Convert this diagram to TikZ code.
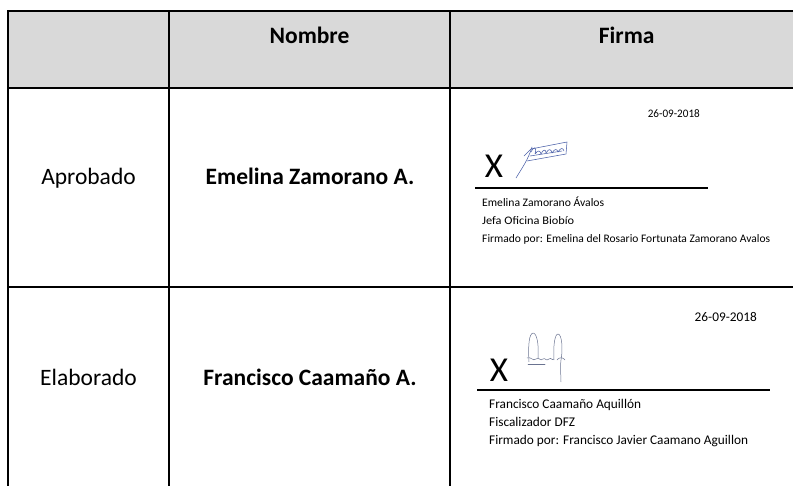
\documentclass[tikz,border=0pt]{standalone}
\usepackage{fontspec}
\setmainfont{Carlito}
\usepackage{graphicx}
\definecolor{hdr}{HTML}{D9D9D9}
\definecolor{sigblue}{HTML}{4A5FA8}
\definecolor{siggray}{HTML}{6A7390}
\tikzset{
  grid/.style={line width=2.6pt, line join=miter},
  hd/.style={font=\fontsize{23.5}{28}\selectfont\bfseries, inner sep=0pt, anchor=base},
  cellreg/.style={font=\fontsize{23.5}{28}\selectfont, inner sep=0pt, anchor=base},
  cellbold/.style={font=\fontsize{23.5}{28}\selectfont\bfseries, inner sep=0pt, anchor=base},
  small/.style={font=\fontsize{11.5}{13}\selectfont, inner sep=0pt, anchor=base west},
  smalltwo/.style={font=\fontsize{13.3}{15}\selectfont, inner sep=0pt, anchor=base west},
  bigx/.style={font=\fontsize{35}{40}\selectfont, inner sep=0pt, anchor=base},
  sigline/.style={line width=2pt},
  ink/.style={sigblue, line width=0.55pt, line cap=round, line join=round},
  inktwo/.style={siggray, line width=0.5pt, line cap=round, line join=round}
}
\begin{document}
\begin{tikzpicture}[x=1pt,y=-1pt]
\useasboundingbox (0,0) rectangle (793,486);
% header fill
\fill[hdr] (8,11) rectangle (793,88);
% grid
\draw[grid] (793,11) -- (8,11) -- (8,486);
\draw[grid] (8,88) -- (793,88);
\draw[grid] (8,287) -- (793,287);
\draw[grid] (169,11) -- (169,486);
\draw[grid] (450,11) -- (450,486);
% header
\node[hd] (nombre) at (309.5,44) {Nombre};
\node[hd] (firma) at (626.7,44) {Firma};
% row 1
\node[cellreg] (aprobado) at (88.5,185) {Aprobado};
\node[cellbold] (emelina) at (310,185) {Emelina Zamorano A.};
\node[small, anchor=base east] (fecha1) at (700,118) {\resizebox{52pt}{\height}{26-09-2018}};
\node[bigx] (x1) at (494,178) {X};
\coordinate (l1a) at (475,188);
\coordinate (l1b) at (708,188);
\draw[sigline] (l1a) -- (l1b);
\node[small] (n1) at (482,207) {\resizebox{122pt}{\height}{Emelina Zamorano Ávalos}};
\node[small] (c1) at (482,225) {\resizebox{92pt}{\height}{Jefa Oficina Biobío}};
\node[small] (f1) at (482,243) {\resizebox{288pt}{\height}{Firmado por: Emelina del Rosario Fortunata Zamorano Avalos}};
% signature 1
\draw[ink] (524,156) -- (531,149) -- (567,142) -- (566,154) -- (527,161);
\draw[ink] (532,147) .. controls (528,160) and (522,168) .. (516,178);
\draw[ink] (531,152) .. controls (534,146) and (537,146) .. (535,154)
  .. controls (538,150) and (540,150) .. (541,154)
  .. controls (543,149) and (546,149) .. (546,153)
  .. controls (549,148) and (551,149) .. (552,153)
  .. controls (555,148) and (557,149) .. (558,152)
  .. controls (561,147) and (563,148) .. (564,151);
\draw[ink] (530,156) -- (562,151);
% row 2
\node[cellreg] (elaborado) at (88.5,386) {Elaborado};
\node[cellbold] (francisco) at (310,386) {Francisco Caamaño A.};
\node[smalltwo, anchor=base east] (fecha2) at (757,322) {26-09-2018};
\node[bigx] (x2) at (499,382) {X};
\coordinate (l2a) at (477,390);
\coordinate (l2b) at (770,390);
\draw[sigline] (l2a) -- (l2b);
\node[smalltwo] (n2) at (489,409) {Francisco Caamaño Aquillón};
\node[smalltwo] (c2) at (489,426) {Fiscalizador DFZ};
\node[smalltwo] (f2) at (489,444) {Firmado por: Francisco Javier Caamano Aguillon};
% signature 2
\draw[inktwo] (529,362) .. controls (528,345) and (529,334) .. (533,333)
  .. controls (537,333) and (539,345) .. (538,358);
\draw[inktwo] (527,358) .. controls (531,356) and (533,362) .. (536,359)
  .. controls (539,356) and (540,362) .. (543,359)
  .. controls (545,357) and (546,362) .. (549,359)
  .. controls (551,357) and (552,361) .. (554,359);
\draw[inktwo] (528,364) -- (545,364);
\draw[inktwo] (554,360) .. controls (553,345) and (555,334) .. (558,334)
  .. controls (562,334) and (563,350) .. (561,360)
  .. controls (560,368) and (561,376) .. (561,382);
\draw[inktwo] (557,360) .. controls (559,357) and (563,357) .. (565,360);
\end{tikzpicture}
\end{document}
